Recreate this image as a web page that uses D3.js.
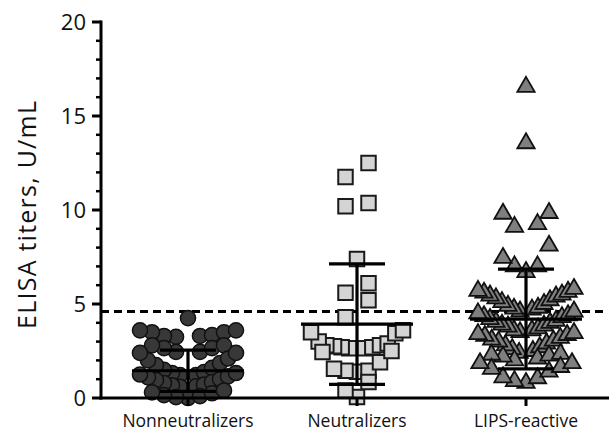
<!DOCTYPE html>
<html>
<head>
<meta charset="utf-8">
<script src="https://cdn.jsdelivr.net/npm/d3@7"></script>
<style>
  html, body { margin: 0; padding: 0; background: #fff; }
  svg { display: block; font-family: "Open Sans", "DejaVu Sans", sans-serif; }
</style>
</head>
<body>
<svg id="chart" width="614" height="433"></svg>
<script>
// ---- data ----
const categories = ["Nonneutralizers", "Neutralizers", "LIPS-reactive"];
// values grouped by the horizontal rows in which they are stacked
const nonneutralizerRows = [
  [4.25],
  [3.25, 3.3, 3.3, 3.35, 3.5, 3.5, 3.6, 3.6],
  [2.45, 2.45, 2.65, 2.65, 2.8, 2.8],
  [1.22, 1.22, 1.33, 1.38, 1.5, 1.6, 1.75, 1.86, 2.0, 2.1, 2.4, 2.4],
  [0.6, 0.62, 0.68, 0.72, 0.8, 0.85, 0.95, 1.0, 1.1, 1.15, 1.25, 1.33],
  [0.0, 0.05, 0.1, 0.15, 0.25, 0.3, 0.4]
];
const neutralizerRows = [
  [11.75, 12.5],
  [10.2, 10.37],
  [7.4],
  [5.6, 6.1],
  [4.3, 5.2],
  [2.65, 2.65, 2.7, 2.7, 2.75, 2.8, 2.8, 2.9, 3.0, 3.45, 3.5, 3.6],
  [1.4, 1.45, 1.45, 1.55, 1.9, 2.45, 2.5],
  [0.05, 0.4, 0.85]
];
const lipsRows = [
  [16.55],
  [13.55],
  [9.1, 9.25, 9.8, 9.84],
  [6.7, 7.0, 7.0, 7.45, 8.1],
  [4.6, 4.7, 4.75, 4.8, 4.9, 5.0, 5.1, 5.2, 5.3, 5.4, 5.45, 5.5, 5.6, 5.65, 5.7, 5.8],
  [3.5, 3.6, 3.6, 3.7, 3.8, 3.85, 3.9, 4.0, 4.05, 4.1, 4.2, 4.3, 4.35, 4.4, 4.5, 4.6],
  [2.4, 2.5, 2.6, 2.7, 2.8, 2.9, 3.0, 3.05, 3.1, 3.2, 3.3, 3.35, 3.4, 3.45],
  [2.0, 2.1, 2.2, 2.25, 2.3, 2.35],
  [0.8, 0.9, 1.05, 1.1, 1.4, 1.55, 1.65, 1.85, 1.85]
];
const groupMeans = [1.45, 3.93, 4.2];
const groupSDs = [1.1, 3.2, 2.65];
const cutoff = 4.6;
const yTicks = [0, 5, 10, 15, 20];
const yMinorTicks = d3.range(0, 21, 1);
const yLabel = "ELISA titers, U/mL";

// ---- layout ----
const svg = d3.select("#chart");
const margin = { left: 101, right: 9, top: 22, bottom: 35 };
const W = 614, H = 433;
const y = d3.scaleLinear().domain([0, 20]).range([398, 22]);
const x = d3.scalePoint().domain(categories).range([188, 526]);

const styles = [
  { type: d3.symbolCircle, size: 180, fill: "#383838", stroke: "#111", sw: 1.5, sMax: 12, halfW: 48 },
  { type: d3.symbolSquare, size: 210, fill: "#d4d4d4", stroke: "#1a1a1a", sw: 2, sMax: 11.5, halfW: 46 },
  { type: d3.symbolTriangle, size: 130, fill: "#7f7f7f", stroke: "#111", sw: 1.8, sMax: 11.5, halfW: 48 }
];
const allRows = [nonneutralizerRows, neutralizerRows, lipsRows];

// row layout: lowest value in the middle, higher ones alternating outward
function layoutRow(vals, st) {
  const sorted = vals.slice().sort((a, b) => a - b);
  const n = sorted.length;
  const slots = [];
  if (n % 2 === 1) {
    slots.push(0);
    for (let k = 1; k <= (n - 1) / 2; k++) { slots.push(-k); slots.push(k); }
  } else {
    for (let k = 1; k <= n / 2; k++) { slots.push(-k); slots.push(k); }
  }
  const m = d3.max(slots.map(Math.abs)) || 1;
  const sp = Math.min(st.sMax, st.halfW / m);
  return sorted.map((v, i) => ({ v, dx: slots[i] * sp }));
}

// dashed cutoff line
svg.append("line")
  .attr("x1", margin.left).attr("x2", W - margin.right)
  .attr("y1", y(cutoff)).attr("y2", y(cutoff))
  .attr("stroke", "#000").attr("stroke-width", 3.2)
  .attr("stroke-dasharray", "8,5");

// points
categories.forEach((cat, gi) => {
  const st = styles[gi];
  const pts = [];
  allRows[gi].forEach(row => layoutRow(row, st).forEach(p => pts.push(p)));
  svg.append("g").selectAll("path").data(pts).join("path")
    .attr("d", d3.symbol().type(st.type).size(st.size))
    .attr("transform", d => `translate(${x(cat) + d.dx},${y(d.v)})`)
    .attr("fill", st.fill).attr("stroke", st.stroke).attr("stroke-width", st.sw);
});

// error bars (mean ± SD)
categories.forEach((cat, gi) => {
  const cx = x(cat), m = groupMeans[gi], s = groupSDs[gi];
  const g = svg.append("g").attr("stroke", "#000").attr("stroke-width", 3.2);
  g.append("line").attr("x1", cx).attr("x2", cx)
    .attr("y1", y(Math.max(0, m - s))).attr("y2", y(m + s));
  g.append("line").attr("x1", cx - 56).attr("x2", cx + 56)
    .attr("y1", y(m)).attr("y2", y(m));
  [m + s, m - s].filter(v => v >= 0).forEach(v => {
    g.append("line").attr("x1", cx - 28).attr("x2", cx + 28)
      .attr("y1", y(v)).attr("y2", y(v));
  });
});

// y axis
const yAxisG = svg.append("g").attr("transform", `translate(${margin.left},0)`);
yAxisG.append("line").attr("x1", 0).attr("x2", 0).attr("y1", y(20) - 1.5).attr("y2", y(0) + 1.5)
  .attr("stroke", "#000").attr("stroke-width", 3);
yAxisG.selectAll(".minor").data(yMinorTicks.filter(v => v % 5 !== 0)).join("line")
  .attr("x1", -5).attr("x2", 0).attr("y1", d => y(d)).attr("y2", d => y(d))
  .attr("stroke", "#000").attr("stroke-width", 2.5);
yAxisG.selectAll(".major").data(yTicks).join("line")
  .attr("x1", -9).attr("x2", 0).attr("y1", d => y(d)).attr("y2", d => y(d))
  .attr("stroke", "#000").attr("stroke-width", 3);
yAxisG.selectAll("text").data(yTicks).join("text")
  .attr("x", -15).attr("y", d => y(d)).attr("dy", "0.36em")
  .attr("text-anchor", "end").attr("font-size", 22).attr("fill", "#111")
  .text(d => d);

svg.append("text")
  .attr("transform", `translate(27,${(y(0) + y(20)) / 2 + 5}) rotate(-90)`)
  .attr("text-anchor", "middle").attr("dy", "0.36em")
  .attr("font-size", 25).attr("fill", "#111")
  .attr("textLength", 228).attr("lengthAdjust", "spacing")
  .text(yLabel);

// x axis
const xAxisG = svg.append("g");
xAxisG.append("line").attr("x1", margin.left - 1.5).attr("x2", 609)
  .attr("y1", y(0)).attr("y2", y(0)).attr("stroke", "#000").attr("stroke-width", 3);
xAxisG.selectAll(".tick").data(categories).join("line")
  .attr("x1", d => x(d)).attr("x2", d => x(d))
  .attr("y1", y(0)).attr("y2", y(0) + 8)
  .attr("stroke", "#000").attr("stroke-width", 3);
xAxisG.selectAll("text").data(categories).join("text")
  .attr("x", d => x(d)).attr("y", 427)
  .attr("text-anchor", "middle").attr("font-size", 17.5).attr("fill", "#111")
  .text(d => d);
</script>
</body>
</html>
